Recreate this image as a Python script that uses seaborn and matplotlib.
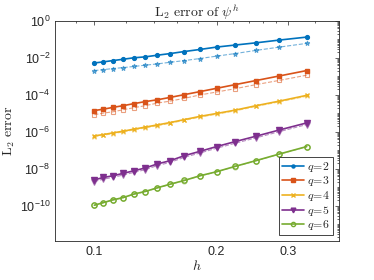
import numpy as np
import pandas as pd
import matplotlib
matplotlib.use("Agg")
import matplotlib.pyplot as plt
import seaborn as sns
from matplotlib.ticker import FixedLocator, NullFormatter, FixedFormatter

sns.set_style("white")
plt.rcParams['font.family'] = ['Liberation Sans', 'DejaVu Sans']
plt.rcParams['mathtext.fontset'] = 'cm'

# mesh size h = 1/N, N = 10, 9.5, ..., 3
h = [0.1, 0.10526, 0.11111, 0.11765, 0.125, 0.13333, 0.14286, 0.15385,
     0.16667, 0.18182, 0.2, 0.22222, 0.25, 0.28571, 0.33333]

# log10 of errors, solid (method A) and dashed (method B)
log_q2 = [-2.27, -2.21, -2.14, -2.07, -1.99, -1.94, -1.85, -1.76, -1.65, -1.54, -1.41, -1.30, -1.18, -1.03, -0.87]
log_q2b = [-2.68, -2.63, -2.57, -2.52, -2.46, -2.39, -2.32, -2.23, -2.14, -2.03, -1.90, -1.76, -1.59, -1.41, -1.21]
log_q3 = [-4.84, -4.77, -4.67, -4.58, -4.47, -4.36, -4.26, -4.13, -3.98, -3.82, -3.64, -3.44, -3.22, -2.97, -2.68]
log_q3b = [-5.07, -4.98, -4.91, -4.80, -4.69, -4.58, -4.44, -4.33, -4.18, -4.00, -3.84, -3.66, -3.44, -3.21, -2.93]
log_q4 = [-6.21, -6.14, -6.05, -5.96, -5.85, -5.74, -5.62, -5.49, -5.33, -5.16, -5.00, -4.82, -4.58, -4.33, -4.02]
log_q4b = [-6.25, -6.18, -6.09, -6.00, -5.89, -5.78, -5.66, -5.53, -5.37, -5.20, -5.04, -4.86, -4.62, -4.37, -4.07]
log_q5 = [-8.59, -8.46, -8.37, -8.24, -8.10, -7.95, -7.73, -7.55, -7.28, -7.05, -6.79, -6.52, -6.23, -5.89, -5.51]
log_q5b = [-8.68, -8.55, -8.46, -8.33, -8.19, -8.04, -7.82, -7.64, -7.37, -7.14, -6.88, -6.61, -6.32, -5.98, -5.60]
log_q6 = [-9.96, -9.82, -9.67, -9.55, -9.36, -9.22, -9.02, -8.82, -8.62, -8.37, -8.15, -7.86, -7.55, -7.19, -6.79]
log_q6b = [-9.97, -9.83, -9.68, -9.56, -9.37, -9.23, -9.03, -8.83, -8.63, -8.38, -8.16, -7.87, -7.56, -7.20, -6.80]

labels = ['q=2', 'q=3', 'q=4', 'q=5', 'q=6']
colors = ['#0072BD', '#D95319', '#EDB120', '#7E2F8E', '#77AC30']
solid = [log_q2, log_q3, log_q4, log_q5, log_q6]
dashed = [log_q2b, log_q3b, log_q4b, log_q5b, log_q6b]
markers = ['.', 's', 'x', 'v', 'o']
msizes = [5.5, 3.2, 3.0, 4.2, 3.8]
filled = [True, True, True, True, False]
dmarkers = ['*', 's', 'x', 'v', 'o']
dsizes = [3.5, 3.0, 2.8, 3.8, 3.5]

fig = plt.figure(figsize=(3.74, 2.80), dpi=100)
ax = fig.add_axes([0.147, 0.139, 0.759, 0.786])

for i in range(5):
    df = pd.DataFrame({'h': h, 'err': 10.0 ** np.array(dashed[i])})
    sns.lineplot(data=df, x='h', y='err', ax=ax, color=colors[i], alpha=0.55,
                 linestyle='--', linewidth=0.8, marker=dmarkers[i],
                 markersize=dsizes[i], markeredgewidth=0.8,
                 markerfacecolor='none' if dmarkers[i] in ('s', 'o') else colors[i],
                 markeredgecolor=colors[i], legend=False)
handles = []
for i in range(5):
    df = pd.DataFrame({'h': h, 'err': 10.0 ** np.array(solid[i])})
    sns.lineplot(data=df, x='h', y='err', ax=ax, color=colors[i],
                 linewidth=1.2, marker=markers[i], markersize=msizes[i],
                 markerfacecolor=colors[i] if filled[i] else 'none',
                 markeredgecolor=colors[i], markeredgewidth=1.0, legend=False)
    handles.append(ax.get_lines()[-1])

ax.set_xscale('log')
ax.set_yscale('log')
ax.set_xlim(0.08, 0.4)
ax.set_ylim(10 ** -11.9, 1)

ax.xaxis.set_major_locator(FixedLocator([0.1, 0.2, 0.3]))
ax.xaxis.set_major_formatter(FixedFormatter(['0.1', '0.2', '0.3']))
ax.xaxis.set_minor_locator(FixedLocator([0.09, 0.12, 0.14, 0.16, 0.18, 0.22, 0.24, 0.26, 0.28, 0.35]))
ax.xaxis.set_minor_formatter(NullFormatter())

yt = [10.0 ** k for k in range(0, -11, -2)]
ax.yaxis.set_major_locator(FixedLocator(yt))
ax.yaxis.set_major_formatter(FixedFormatter([r'$\mathdefault{10^{%d}}$' % k for k in range(0, -11, -2)]))
yminor = [m * 10.0 ** k for k in range(-12, 0) for m in range(1, 10)]
ax.yaxis.set_minor_locator(FixedLocator(yminor))
ax.yaxis.set_minor_formatter(NullFormatter())

ax.tick_params(which='both', direction='in', top=True, right=True,
               colors='#262626', labelcolor='#262626', labelsize=9)
ax.tick_params(which='major', length=3, width=0.5)
ax.tick_params(which='minor', length=1.6, width=0.5)
for sp in ax.spines.values():
    sp.set_color('#262626')
    sp.set_linewidth(0.6)

ax.set_title(r'$\mathrm{L}_2\ \mathrm{error\ of}\ \psi^h$', fontsize=10, pad=3)
ax.set_xlabel(r'$h$', fontsize=10, labelpad=1)
ax.set_ylabel(r'$\mathrm{L}_2\ \mathrm{error}$', fontsize=10, labelpad=2)

leg = ax.legend(handles, [r'$q\!=\!%s$' % l.split('=')[1] for l in labels],
                loc='lower right', fontsize=8.5, frameon=True, fancybox=False,
                edgecolor='#262626', framealpha=1, borderpad=0.25,
                handlelength=1.9, handletextpad=0.25, labelspacing=0.05,
                borderaxespad=0.5, markerscale=0.8)
leg.get_frame().set_linewidth(0.6)

fig.savefig('out.png', dpi=100)
